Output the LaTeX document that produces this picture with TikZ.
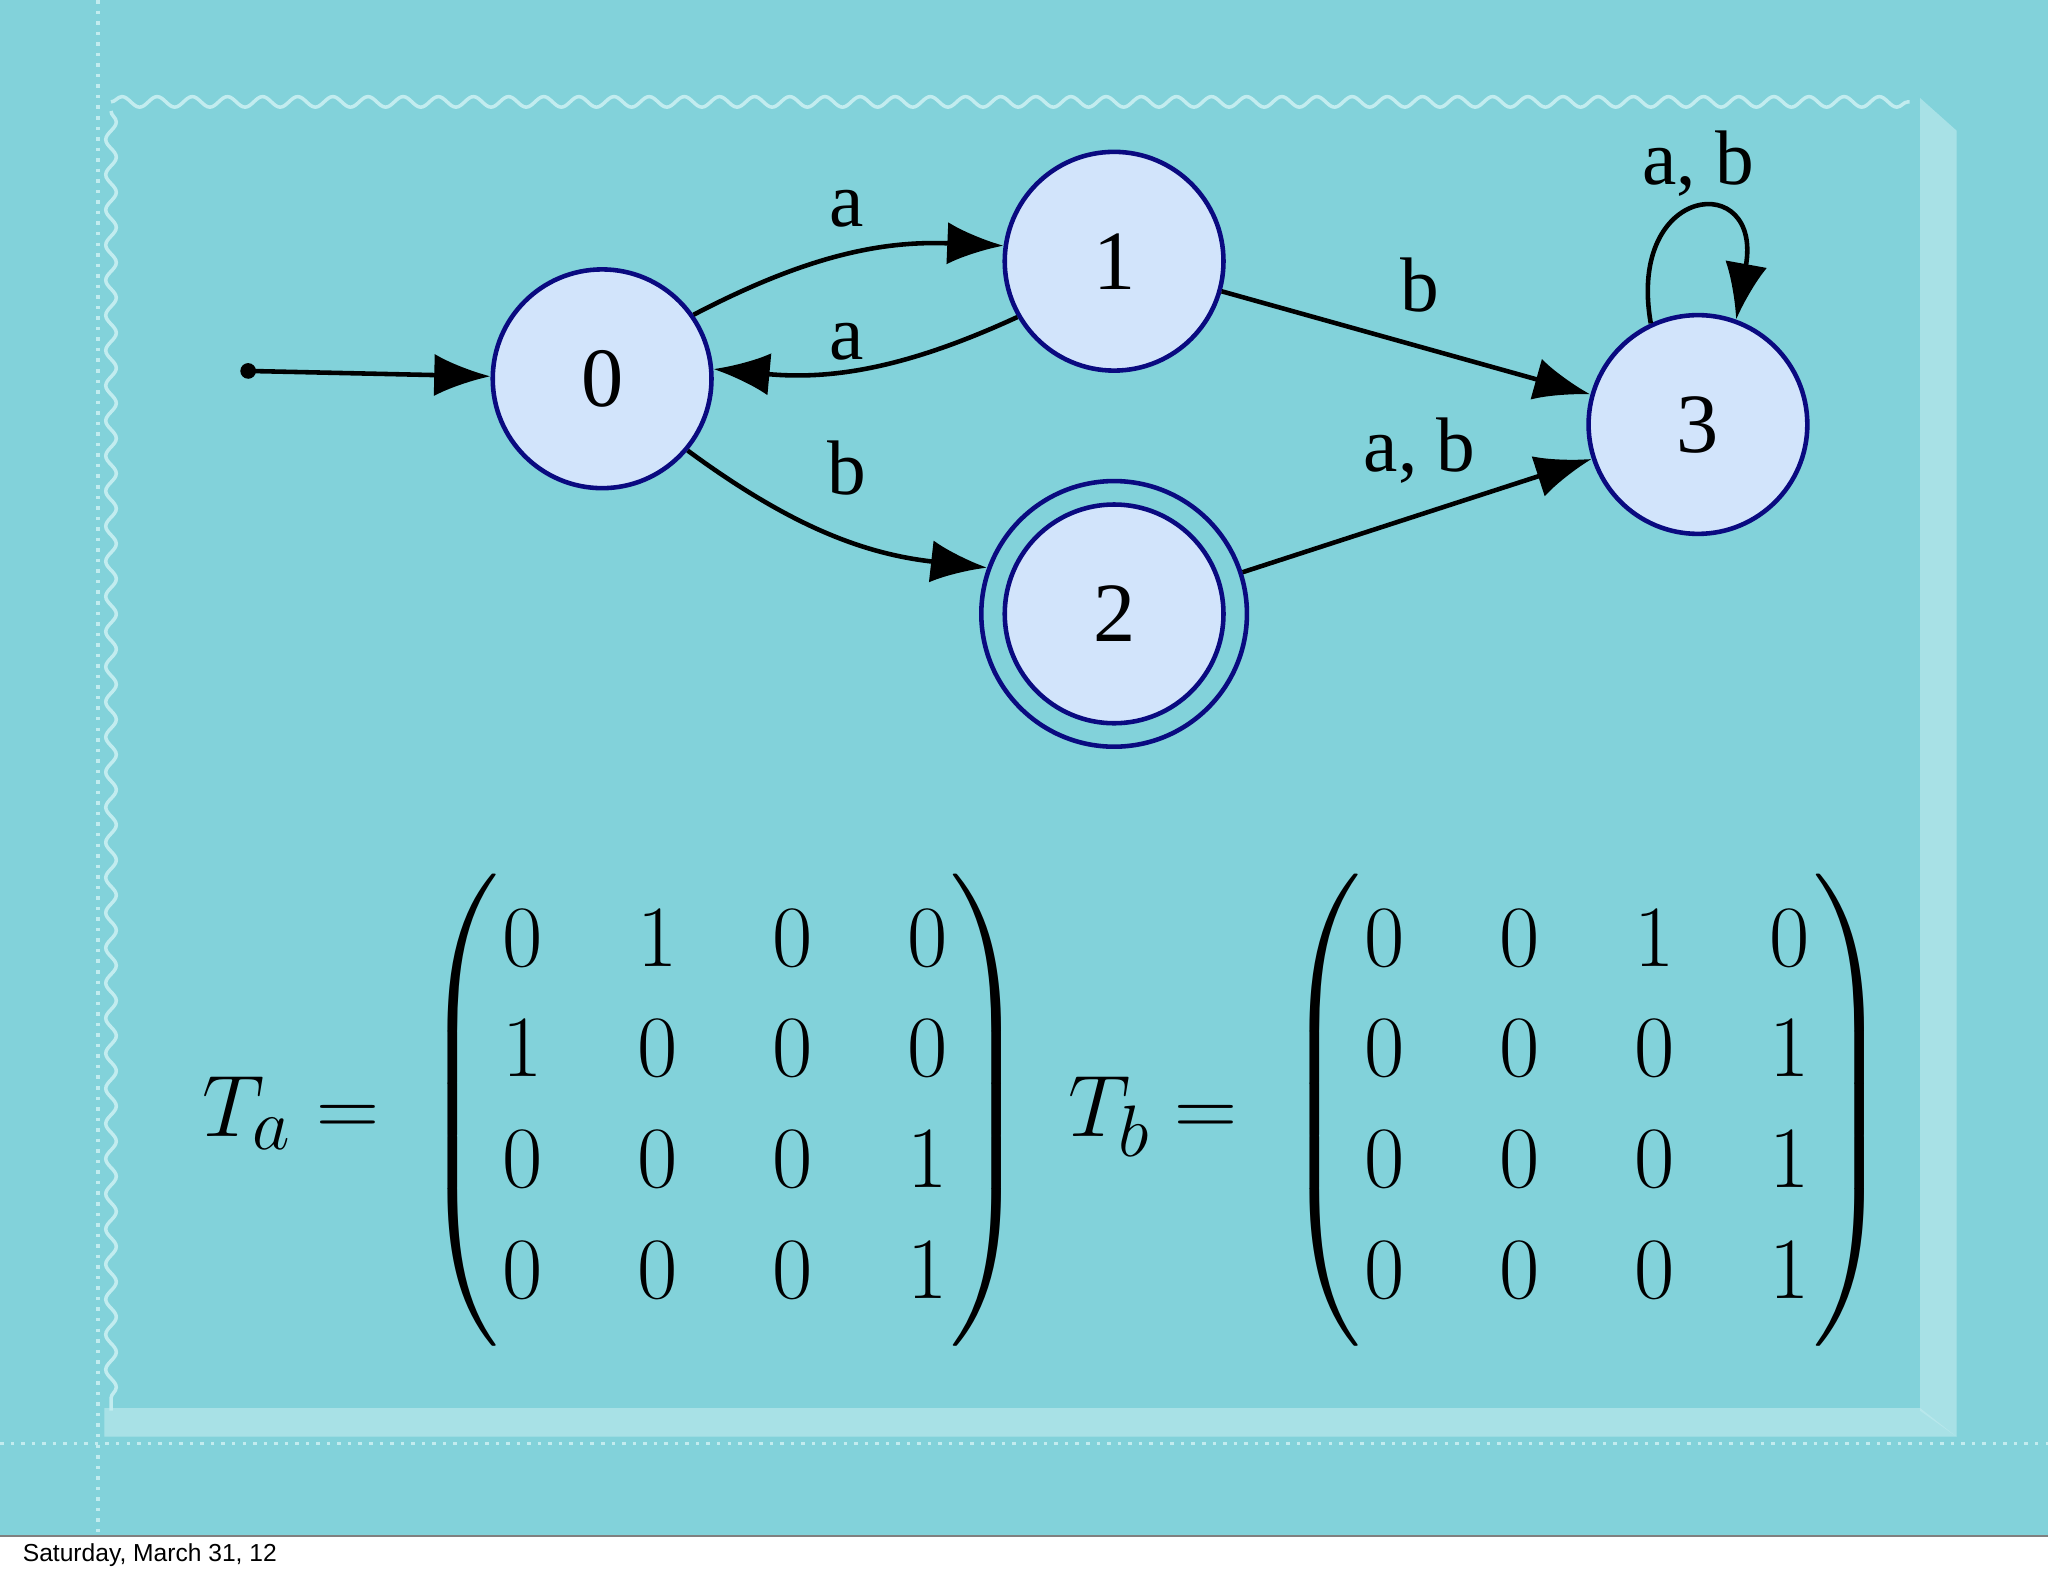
\documentclass[tikz,border=0pt]{standalone}
\usepackage{amsmath}
\usepackage{fontspec}
\newfontfamily\tms{Liberation Serif}
\newfontfamily\hel{Liberation Sans}
\usetikzlibrary{arrows.meta,decorations.pathmorphing}
\definecolor{bg}{HTML}{82D2DA}
\definecolor{fr}{HTML}{C2ECEF}
\definecolor{nfill}{HTML}{D2E4FB}
\definecolor{nbord}{HTML}{0A0A80}
\newcommand{\mymat}[1]{\fontsize{30}{31.5}\selectfont\setlength\arraycolsep{13.5pt}$\left(\begin{array}{@{\kern1pt}cccc@{\kern1pt}}#1\end{array}\right)$}
\begin{document}
\begin{tikzpicture}[x=0.01306cm,y=-0.01306cm,
  st/.style={circle,draw=nbord,fill=nfill,line width=1.3pt,minimum size=168*0.3705pt,inner sep=0pt,font=\tms\fontsize{24}{24}\selectfont},
  ed/.style={line width=1.3pt,-{Latex[length=16pt,width=12pt]}},
  lb/.style={font=\tms\fontsize{22}{22}\selectfont}]
\useasboundingbox (0,0) rectangle (1568,1207);
\fill[bg] (0,0) rectangle (1568,1176);
\fill[white] (0,1176) rectangle (1568,1207);
\draw[gray,line width=0.4pt] (0,1176) -- (1568,1176);
\node[anchor=west,font=\hel\fontsize{7}{7}\selectfont] (date) at (8,1191) {Saturday, March 31, 12};
% frame
\draw[fr,line width=1pt,dotted] (75,0) -- (75,1176);
\draw[fr,line width=1pt,dotted] (0,1105) -- (1568,1105);
\draw[fr,line width=1pt,decorate,decoration={snake,amplitude=1.5,segment length=10}] (85,78) -- (1462,78);
\draw[fr,line width=1pt,decorate,decoration={snake,amplitude=1.5,segment length=10}] (85,85) -- (85,1080);
\fill[fr,opacity=0.6] (1470,75) -- (1498,100) -- (1498,1100) -- (1470,1080) -- cycle;
\fill[fr,opacity=0.6] (80,1078) -- (1470,1078) -- (1498,1100) -- (80,1100) -- cycle;
% nodes
\node[st] (q0) at (461,290) {0};
\node[st] (q1) at (853,200) {1};
\node[circle,draw=nbord,line width=1.3pt,minimum size=204*0.3705pt,inner sep=0pt] (q2o) at (853,470) {};
\node[st] (q2) at (853,470) {2};
\node[st] (q3) at (1300,325) {3};
\fill (190,284) circle (6);
\coordinate (s) at (190,284);
\draw[ed] (s) -- (q0);
\draw[ed] (q0.35) to[bend left=15] (q1.172);
\draw[ed] (q1.210) to[bend left=15] (q0.5);
\draw[ed] (q0.-40) to[bend right=15] (q2o.160);
\draw[ed] (q1) -- (q3);
\draw[ed] (q2o) -- (q3);
\draw[ed] (q3.115) .. controls (1245,140) and (1350,130) .. (q3.70);
\node[lb] (l1) at (648,160) {a};
\node[lb] (l2) at (648,262) {a};
\node[lb] (l3) at (648,358) {b};
\node[lb] (l4) at (1087,218) {b};
\node[lb] (l5) at (1087,345) {a, b};
\node[lb] (l6) at (1300,125) {a, b};
% matrices
\node[anchor=base east] (ta) at (300,870) {\fontsize{30}{31.5}\selectfont $T_a =$};
\node (ma) at (555,850) {\mymat{0&1&0&0\\1&0&0&0\\0&0&0&1\\0&0&0&1}};
\node[anchor=base east] (tb) at (957,870) {\fontsize{30}{31.5}\selectfont $T_b =$};
\node (mb) at (1215,850) {\mymat{0&0&1&0\\0&0&0&1\\0&0&0&1\\0&0&0&1}};
\end{tikzpicture}
\end{document}
